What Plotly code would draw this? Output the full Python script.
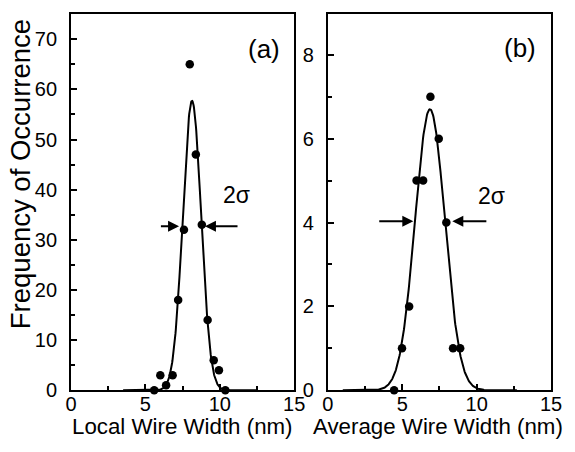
import numpy as np
import plotly.graph_objects as go

# ---------------- data ----------------
# (a) local wire width histogram points
local_width = [5.59, 6.00, 6.39, 6.83, 7.20, 7.59, 7.98, 8.39, 8.79, 9.18, 9.59, 9.94, 10.37]
local_freq = [0, 3, 1, 3, 18, 32, 65, 47, 33, 14, 6, 4, 0]
# Gaussian fit shown in (a): amplitude, centre, sigma, drawn range
fit_a = dict(amp=57.7, mu=8.13, sigma=0.615, x0=3.5, x1=12.5)

# (b) average wire width histogram points
avg_width = [4.45, 4.98, 5.46, 5.96, 6.40, 6.89, 7.45, 7.96, 8.41, 8.89]
avg_freq = [0, 1, 2, 5, 5, 7, 6, 4, 1, 1]
# Gaussian fit shown in (b)
fit_b = dict(amp=6.7, mu=6.86, sigma=1.0, x0=1.0, x1=12.7)

x_ticks = [0, 5, 10, 15]
ya_ticks = [0, 10, 20, 30, 40, 50, 60, 70]
yb_ticks = [0, 2, 4, 6, 8]

x_title_a = "Local Wire Width (nm)"
x_title_b = "Average Wire Width (nm)"
y_title = "Frequency of Occurrence"


def gauss_curve(p):
    xs = np.linspace(p["x0"], p["x1"], 400)
    ys = p["amp"] * np.exp(-((xs - p["mu"]) ** 2) / (2 * p["sigma"] ** 2))
    return xs, ys


FONT = "Liberation Sans, Arial, Helvetica, sans-serif"
W, H = 575, 452
# the page body has an 8px default margin while loading; start small so the
# page never overflows the window, then grow to the full size once shown
W0, H0 = W - 16, H - 16

fig = go.Figure()

xa, ya = gauss_curve(fit_a)
xb, yb = gauss_curve(fit_b)

fig.add_trace(go.Scatter(x=xa, y=ya, mode="lines", line=dict(color="black", width=2),
                         xaxis="x", yaxis="y", showlegend=False, hoverinfo="skip"))
fig.add_trace(go.Scatter(x=local_width, y=local_freq, mode="markers",
                         marker=dict(color="black", size=8.5), cliponaxis=False,
                         xaxis="x", yaxis="y", showlegend=False))
fig.add_trace(go.Scatter(x=xb, y=yb, mode="lines", line=dict(color="black", width=2),
                         xaxis="x2", yaxis="y2", showlegend=False, hoverinfo="skip"))
fig.add_trace(go.Scatter(x=avg_width, y=avg_freq, mode="markers",
                         marker=dict(color="black", size=8.5), cliponaxis=False,
                         xaxis="x2", yaxis="y2", showlegend=False))

ydom = [1 - 400 / H, 1 - 14 / H]
axis_common = dict(
    showline=True, linecolor="black", linewidth=2, mirror=True,
    showgrid=False, zeroline=False,
    ticks="inside", ticklen=6, tickwidth=1.5, tickcolor="black",
    tickfont=dict(family=FONT, size=20, color="black"),
)
xminor = dict(ticks="inside", ticklen=4, tickwidth=1.5, dtick=2.5, tick0=0, tickcolor="black")

fig.update_layout(
    width=W0, height=H0, autosize=False,
    margin=dict(l=0, r=0, t=0, b=0, pad=0),
    paper_bgcolor="white", plot_bgcolor="white",
    xaxis=dict(domain=[67 / W, 297 / W], range=[0, 15], anchor="y",
               tickvals=x_ticks, minor=xminor, ticklabelstandoff=-5, **axis_common),
    yaxis=dict(domain=ydom, range=[0, 75.1], anchor="x",
               tickvals=ya_ticks, minor=dict(ticks="inside", ticklen=4, tickwidth=1.5,
                                             dtick=5, tick0=0, tickcolor="black"),
               ticklabelstandoff=8, **axis_common),
    xaxis2=dict(domain=[331.7 / W, 561.7 / W], range=[0, 15], anchor="y2",
                tickvals=x_ticks, minor=xminor, ticklabelstandoff=-5, **axis_common),
    yaxis2=dict(domain=ydom, range=[0, 8.98], anchor="x2",
                tickvals=yb_ticks, minor=dict(ticks="inside", ticklen=4, tickwidth=1.5,
                                              dtick=1, tick0=0, tickcolor="black"),
                ticklabelstandoff=8, **axis_common),
)

ann = []
# axis titles
ann.append(dict(text=x_title_a, xref="paper", yref="paper", x=182 / W, y=1 - 437 / H,
                showarrow=False, xanchor="center", yanchor="middle",
                font=dict(family=FONT, size=22.3, color="black")))
ann.append(dict(text=x_title_b, xref="paper", yref="paper", x=445 / W, y=1 - 437 / H,
                showarrow=False, xanchor="center", yanchor="middle",
                font=dict(family=FONT, size=22.3, color="black")))
ann.append(dict(text=y_title, xref="paper", yref="paper", x=15 / W, y=1 - 179 / H,
                showarrow=False, xanchor="center", yanchor="middle", textangle=-90,
                font=dict(family=FONT, size=27.5, color="black")))
# panel labels
ann.append(dict(text="(a)", xref="x", yref="y", x=12.95, y=68.0, showarrow=False,
                xanchor="center", yanchor="middle", font=dict(family=FONT, size=26, color="black")))
ann.append(dict(text="(b)", xref="x2", yref="y2", x=12.9, y=8.16, showarrow=False,
                xanchor="center", yanchor="middle", font=dict(family=FONT, size=26, color="black")))
# 2 sigma labels
ann.append(dict(text="2σ", xref="x", yref="y", x=11.1, y=38.9, showarrow=False,
                xanchor="center", yanchor="middle", font=dict(family=FONT, size=23, color="black")))
ann.append(dict(text="2σ", xref="x2", yref="y2", x=11.0, y=4.64, showarrow=False,
                xanchor="center", yanchor="middle", font=dict(family=FONT, size=23, color="black")))

arrow_style = dict(text="", showarrow=True, arrowhead=2, arrowsize=1.1, arrowwidth=2,
                   arrowcolor="black", standoff=0)
# arrows in (a)
ann.append(dict(xref="x", yref="y", axref="x", ayref="y", x=7.26, y=32.7, ax=5.94, ay=32.7, **arrow_style))
ann.append(dict(xref="x", yref="y", axref="x", ayref="y", x=9.0, y=32.7, ax=11.29, ay=32.7, **arrow_style))
# arrows in (b)
ann.append(dict(xref="x2", yref="y2", axref="x2", ayref="y2", x=5.74, y=4.03, ax=3.35, ay=4.03, **arrow_style))
ann.append(dict(xref="x2", yref="y2", axref="x2", ayref="y2", x=8.36, y=4.03, ax=10.75, ay=4.03, **arrow_style))

fig.update_layout(annotations=ann)

post = (
    "document.documentElement.style.margin='0';"
    "document.body.style.margin='0';document.body.style.padding='0';"
    "document.documentElement.style.overflow='hidden';"
    "var gd=document.getElementById('{plot_id}');"
    "gd.style.width='%dpx';gd.style.height='%dpx';"
    "Plotly.relayout(gd,{width:%d,height:%d});" % (W, H, W, H)
)

fig.write_html("out.html", config={"displayModeBar": False}, post_script=post)
